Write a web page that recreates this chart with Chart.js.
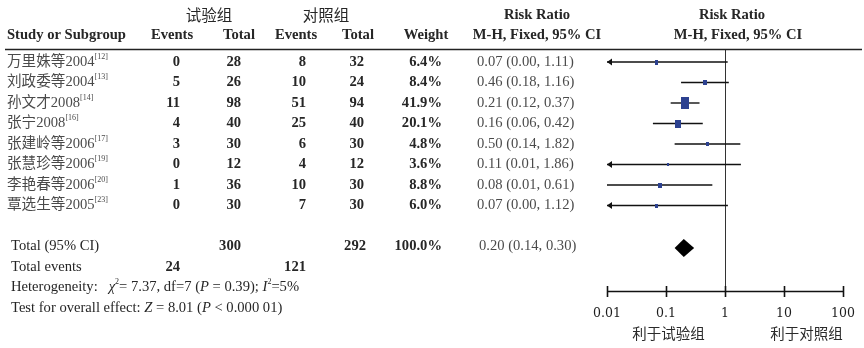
<!DOCTYPE html>
<html><head><meta charset="utf-8">
<script src="https://cdn.jsdelivr.net/npm/chart.js@4.4.1/dist/chart.umd.min.js"></script>
<style>html,body{margin:0;padding:0;background:#fff;overflow:hidden}#wrap{width:864px;height:348px;position:relative}</style>
</head><body><div id="wrap"><canvas id="c" width="864" height="348"></canvas></div>
<script>
// ---- data ----
const studyNames = ['万里姝等2004','刘政委等2004','孙文才2008','张宁2008','张建岭等2006','张慧珍等2006','李艳春等2006','覃选生等2005'];
const refNumbers = ['12','13','14','16','17','19','20','23'];
const expEvents = [0,5,11,4,3,0,1,0];
const expTotals = [28,26,98,40,30,12,36,30];
const ctrlEvents = [8,10,51,25,6,4,10,7];
const ctrlTotals = [32,24,94,40,30,12,30,30];
const weights = [6.4,8.4,41.9,20.1,4.8,3.6,8.8,6.0];
const riskRatio = [0.07,0.46,0.21,0.16,0.50,0.11,0.08,0.07];
const ciLow = [0.00,0.18,0.12,0.06,0.14,0.01,0.01,0.00];
const ciHigh = [1.11,1.16,0.37,0.42,1.82,1.86,0.61,1.12];
const lowClipped = [true,false,false,false,false,true,false,true];
const totalRR = [0.20], totalLow = [0.14], totalHigh = [0.30];
const totalExp = [300], totalCtrl = [292], totalWeight = [100.0];
const totalExpEvents = [24], totalCtrlEvents = [121];
const xTickValues = [0.01,0.1,1,10,100];
const xTickLabels = ['0.01','0.1','1','10','100'];
const favourLabels = ['利于试验组','利于对照组'];

// ---- layout constants ----
const X_MIN = 0.01, X_MAX = 100;
const ROW_TOTAL = 9, ROW_EVENTS = 10, ROW_HET = 11, ROW_TEST = 12;
const SERIF = "'Liberation Serif', 'Noto Sans CJK SC', serif";
const FS = 14.6;
const TXT = '#262626', GREY = '#4a4a4a', SQ = '#2c4190';

function squareCanvas(w) {
  const s = Math.sqrt(w);
  const cw = Math.max(2, Math.round(s * 1.25));
  const ch = Math.max(3, Math.round(s * 1.8));
  const cv = document.createElement('canvas');
  cv.width = cw; cv.height = ch;
  const g = cv.getContext('2d');
  g.fillStyle = SQ; g.fillRect(0, 0, cw, ch);
  return cv;
}

function fmt2(v){ return v.toFixed(2); }

function drawRich(ctx, x, y, segs, size, align) {
  let total = 0;
  const fonts = segs.map(s => {
    const sz = s.sup ? Math.round(size * 0.58) : size;
    return (s.it ? 'italic ' : '') + (s.b ? 'bold ' : '') + sz + 'px ' + SERIF;
  });
  segs.forEach((s, i) => { ctx.font = fonts[i]; total += ctx.measureText(s.t).width; });
  let cx = align === 'right' ? x - total : align === 'center' ? x - total / 2 : x;
  ctx.textAlign = 'left';
  segs.forEach((s, i) => {
    ctx.font = fonts[i];
    ctx.fillText(s.t, cx, s.sup ? y - size * 0.38 : y);
    cx += ctx.measureText(s.t).width;
  });
}

const forestPlugin = {
  id: 'forest',
  beforeDatasetsDraw(chart) {
    const ctx = chart.ctx, xs = chart.scales.x, ca = chart.chartArea;
    ctx.save();
    ctx.strokeStyle = '#333'; ctx.lineWidth = 1;
    const x1 = Math.round(xs.getPixelForValue(1)) + 0.5;
    ctx.beginPath(); ctx.moveTo(x1, ca.top); ctx.lineTo(x1, ca.bottom); ctx.stroke();
    ctx.restore();
  },
  afterDatasetsDraw(chart) {
    const ctx = chart.ctx, xs = chart.scales.x, ys = chart.scales.y, ca = chart.chartArea;
    ctx.save();
    ctx.textBaseline = 'middle';
    // header
    ctx.fillStyle = TXT;
    ctx.textAlign = 'center';
    ctx.font = "15.5px 'Noto Sans CJK SC', sans-serif";
    ctx.fillText('试验组', 209, 15);
    ctx.fillText('对照组', 326, 15);
    ctx.font = 'bold ' + FS + 'px ' + SERIF;
    ctx.fillText('Risk Ratio', 537, 15);
    ctx.fillText('Risk Ratio', 732, 15);
    ctx.textAlign = 'left';
    ctx.fillText('Study or Subgroup', 7, 35);
    ctx.textAlign = 'center';
    ctx.fillText('Events', 172, 35);
    ctx.fillText('Total', 239, 35);
    ctx.fillText('Events', 296, 35);
    ctx.fillText('Total', 358, 35);
    ctx.fillText('Weight', 426, 35);
    ctx.fillText('M-H, Fixed, 95% CI', 537, 35);
    ctx.fillText('M-H, Fixed, 95% CI', 738, 35);
    // header rule
    ctx.strokeStyle = '#222'; ctx.lineWidth = 1.5;
    ctx.beginPath(); ctx.moveTo(5, 49.5); ctx.lineTo(862, 49.5); ctx.stroke();

    // study rows
    studyNames.forEach((name, i) => {
      const y = ys.getPixelForValue(i);
      ctx.fillStyle = GREY;
      drawRich(ctx, 7, y, [{t: name}, {t: '[' + refNumbers[i] + ']', sup: true}], FS, 'left');
      ctx.fillStyle = TXT;
      ctx.font = 'bold ' + FS + 'px ' + SERIF;
      ctx.textAlign = 'right';
      ctx.fillText(String(expEvents[i]), 180, y);
      ctx.fillText(String(expTotals[i]), 241, y);
      ctx.fillText(String(ctrlEvents[i]), 306, y);
      ctx.fillText(String(ctrlTotals[i]), 364, y);
      ctx.fillText(weights[i].toFixed(1) + '%', 442, y);
      ctx.fillStyle = GREY;
      ctx.font = FS + 'px ' + SERIF;
      ctx.textAlign = 'left';
      ctx.fillText(fmt2(riskRatio[i]) + ' (' + fmt2(ciLow[i]) + ', ' + fmt2(ciHigh[i]) + ')', 477, y);
      if (lowClipped[i]) {
        const ax = xs.getPixelForValue(X_MIN);
        ctx.fillStyle = '#111';
        ctx.beginPath(); ctx.moveTo(ax, y); ctx.lineTo(ax + 5, y - 3.5); ctx.lineTo(ax + 5, y + 3.5); ctx.closePath(); ctx.fill();
      }
    });

    // total row
    let y = ys.getPixelForValue(ROW_TOTAL);
    ctx.fillStyle = TXT;
    ctx.font = FS + 'px ' + SERIF; ctx.textAlign = 'left';
    ctx.fillText('Total (95% CI)', 11, y);
    ctx.font = 'bold ' + FS + 'px ' + SERIF; ctx.textAlign = 'right';
    ctx.fillText(String(totalExp[0]), 241, y);
    ctx.fillText(String(totalCtrl[0]), 366, y);
    ctx.fillText(totalWeight[0].toFixed(1) + '%', 442, y);
    ctx.fillStyle = GREY; ctx.font = FS + 'px ' + SERIF; ctx.textAlign = 'left';
    ctx.fillText(fmt2(totalRR[0]) + ' (' + fmt2(totalLow[0]) + ', ' + fmt2(totalHigh[0]) + ')', 479, y);
    // diamond
    const dl = xs.getPixelForValue(totalLow[0]), dc = xs.getPixelForValue(totalRR[0]), dr = xs.getPixelForValue(totalHigh[0]);
    const dy = ys.getPixelForValue(ROW_TOTAL) + 1.5;
    ctx.fillStyle = '#000';
    ctx.beginPath(); ctx.moveTo(dl, dy); ctx.lineTo(dc, dy - 9); ctx.lineTo(dr, dy); ctx.lineTo(dc, dy + 9); ctx.closePath(); ctx.fill();

    // total events
    y = ys.getPixelForValue(ROW_EVENTS);
    ctx.fillStyle = TXT; ctx.font = FS + 'px ' + SERIF; ctx.textAlign = 'left';
    ctx.fillText('Total events', 11, y);
    ctx.font = 'bold ' + FS + 'px ' + SERIF; ctx.textAlign = 'right';
    ctx.fillText(String(totalExpEvents[0]), 180, y);
    ctx.fillText(String(totalCtrlEvents[0]), 306, y);

    // heterogeneity & overall effect
    y = ys.getPixelForValue(ROW_HET);
    ctx.fillStyle = TXT;
    drawRich(ctx, 11, y, [
      {t: 'Heterogeneity:   '}, {t: 'χ', it: true}, {t: '2', sup: true}, {t: '= 7.37, df=7 ('},
      {t: 'P', it: true}, {t: ' = 0.39); '}, {t: 'I', it: true}, {t: '2', sup: true}, {t: '=5%'}
    ], FS, 'left');
    y = ys.getPixelForValue(ROW_TEST);
    drawRich(ctx, 11, y, [
      {t: 'Test for overall effect: '}, {t: 'Z', it: true}, {t: ' = 8.01 ('},
      {t: 'P', it: true}, {t: ' < 0.000 01)'}
    ], FS, 'left');

    // x axis
    const ay = Math.round(ca.bottom) + 0.5;
    ctx.strokeStyle = '#111'; ctx.lineWidth = 1.6;
    ctx.beginPath();
    ctx.moveTo(xs.getPixelForValue(X_MIN), ay); ctx.lineTo(xs.getPixelForValue(X_MAX), ay);
    xTickValues.forEach(v => {
      const tx = Math.round(xs.getPixelForValue(v)) + 0.5;
      ctx.moveTo(tx, ay - 5.5); ctx.lineTo(tx, ay + 5.5);
    });
    ctx.stroke();
    ctx.fillStyle = '#1e1e1e'; ctx.textAlign = 'center';
    ctx.font = "12.5px 'DejaVu Serif', serif";
    xTickValues.forEach((v, k) => ctx.fillText(xTickLabels[k], xs.getPixelForValue(v), ay + 22));
    ctx.font = "14.5px 'Noto Sans CJK SC', sans-serif";
    ctx.fillStyle = '#2a2a2a';
    ctx.fillText(favourLabels[0], xs.getPixelForValue(0.11), ay + 42);
    ctx.fillText(favourLabels[1], xs.getPixelForValue(24), ay + 42);
    ctx.restore();
  }
};

const lineDatasets = studyNames.map((n, i) => ({
  type: 'line',
  label: n,
  data: [{x: Math.max(ciLow[i], X_MIN), y: i}, {x: ciHigh[i], y: i}],
  borderColor: '#111', borderWidth: 1.4, pointRadius: 0, order: 2
}));
const squareCanvases = weights.map(w => squareCanvas(w));
const squareDataset = {
  type: 'scatter',
  label: 'RR',
  data: riskRatio.map((v, i) => ({x: v, y: i})),
  pointStyle: ctx => squareCanvases[ctx.dataIndex],
  pointRadius: 3, pointHoverRadius: 3, order: 1
};

const ROW_STEP = 20.5, TOP = 49, BOTTOM = 291;
const yMin = -(62 - TOP) / ROW_STEP;
const yMax = yMin + (BOTTOM - TOP) / ROW_STEP;

new Chart(document.getElementById('c'), {
  type: 'scatter',
  data: { datasets: [squareDataset, ...lineDatasets] },
  options: {
    responsive: false, animation: false, devicePixelRatio: 1,
    layout: { padding: { left: 607, right: 21, top: TOP, bottom: 348 - BOTTOM } },
    plugins: { legend: { display: false }, tooltip: { enabled: false } },
    scales: {
      x: { type: 'logarithmic', min: X_MIN, max: X_MAX, display: false },
      y: { type: 'linear', reverse: true, min: yMin, max: yMax, display: false }
    }
  },
  plugins: [forestPlugin]
});
</script></body></html>
